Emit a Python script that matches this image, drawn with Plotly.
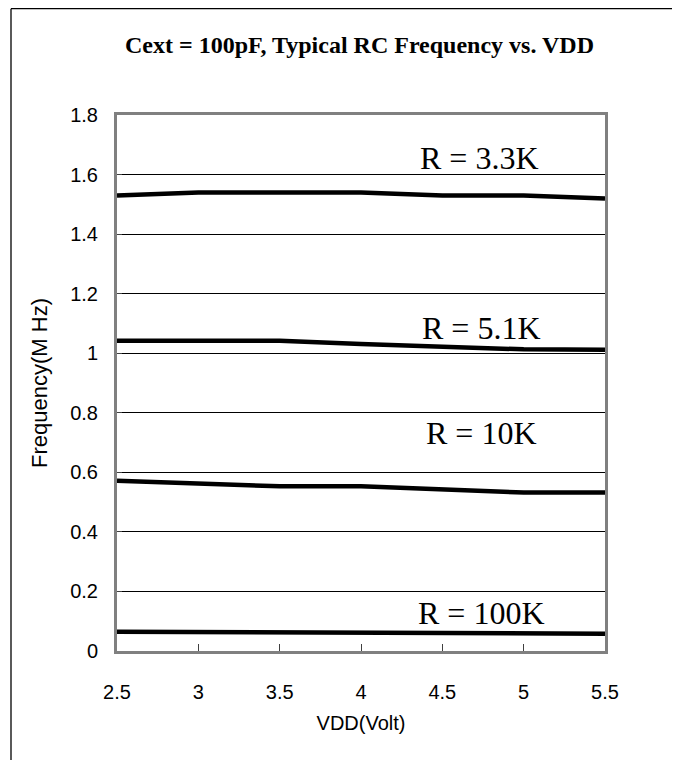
import plotly.graph_objects as go

vdd = [2.5, 3.0, 3.5, 4.0, 4.5, 5.0, 5.5]
f_3k3 = [1.53, 1.54, 1.54, 1.54, 1.53, 1.53, 1.52]
f_5k1 = [1.042, 1.042, 1.042, 1.031, 1.023, 1.013, 1.012]
f_10k = [0.572, 0.563, 0.553, 0.553, 0.543, 0.532, 0.532]
f_100k = [0.065, 0.064, 0.062, 0.060, 0.059, 0.058, 0.058]

series_names = ["R = 3.3K", "R = 5.1K", "R = 10K", "R = 100K"]
series_values = [f_3k3, f_5k1, f_10k, f_100k]
label_x = [4.73, 4.74, 4.74, 4.74]
label_y = [1.655, 1.085, 0.732, 0.128]

title_text = "Cext = 100pF, Typical RC Frequency vs. VDD"
x_title = "VDD(Volt)"
y_title = "Frequency(M Hz)"
x_ticks = [2.5, 3, 3.5, 4, 4.5, 5, 5.5]
x_ticktext = ["2.5", "3", "3.5", "4", "4.5", "5", "5.5"]
y_ticks = [0, 0.2, 0.4, 0.6, 0.8, 1.0, 1.2, 1.4, 1.6, 1.8]
y_ticktext = ["0", "0.2", "0.4", "0.6", "0.8", "1", "1.2", "1.4", "1.6", "1.8"]

fig = go.Figure()
for name, vals in zip(series_names, series_values):
    fig.add_trace(go.Scatter(x=vdd, y=vals, mode="lines", name=name,
                             line=dict(color="black", width=4.5),
                             showlegend=False, cliponaxis=True))

for name, lx, ly in zip(series_names, label_x, label_y):
    fig.add_annotation(x=lx, y=ly, xref="x", yref="y", text=name, showarrow=False,
                       xanchor="center", yanchor="middle",
                       font=dict(family="Liberation Serif, Times New Roman, serif", size=32, color="black"))

W, H = 680, 760
L, R, T, B = 109, 83, 107, 117
pw, ph = W - L - R, H - T - B

def px(x):
    return (x - L) / pw

def py(y):
    return (H - B - y) / ph

# outer frame (top and left lines visible)
fig.add_shape(type="line", xref="paper", yref="paper", x0=px(3), x1=px(700), y0=py(0.7), y1=py(0.7),
              line=dict(color="black", width=1.3))
fig.add_shape(type="line", xref="paper", yref="paper", x0=px(3), x1=px(3), y0=py(0.7), y1=py(780),
              line=dict(color="black", width=1.3))

fig.update_layout(
    width=W, height=H,
    margin=dict(l=L, r=R, t=T, b=B, autoexpand=False),
    paper_bgcolor="white", plot_bgcolor="white",
    title=dict(text="<b>" + title_text + "</b>", x=351.5 / W, xanchor="center",
               y=1 - 37 / H, yanchor="middle", xref="container", yref="container",
               font=dict(family="Liberation Serif, Times New Roman, serif", size=24, color="black")),
    font=dict(family="Liberation Sans, Arial, sans-serif", size=20, color="black"),
)

fig.update_xaxes(range=[2.5, 5.5], tickmode="array", tickvals=x_ticks, ticktext=x_ticktext,
                 showgrid=False, zeroline=False, showline=True, mirror=True,
                 linecolor="#808080", linewidth=3, ticks="inside", ticklen=7,
                 tickcolor="#404040", tickwidth=1.2, ticklabelstandoff=21,
                 tickfont=dict(size=20),
                 title=dict(text=x_title, standoff=14, font=dict(size=20)))
fig.update_yaxes(range=[0, 1.8], tickmode="array", tickvals=y_ticks, ticktext=y_ticktext,
                 showgrid=True, gridcolor="black", gridwidth=1, zeroline=False,
                 showline=True, mirror=True, linecolor="#808080", linewidth=3,
                 ticks="inside", ticklen=5, tickcolor="#404040", tickwidth=1.2,
                 ticklabelstandoff=12, tickfont=dict(size=20),
                 title=dict(text=y_title, standoff=17, font=dict(size=22)))

fig.write_html("out.html")
